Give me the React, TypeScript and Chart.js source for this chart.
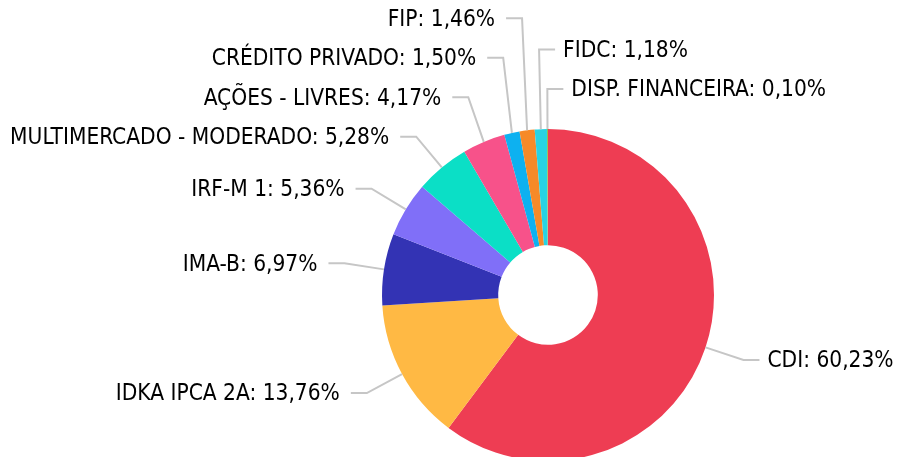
import React, { useEffect, useRef } from 'react';
import { Chart, registerables } from 'chart.js';

Chart.register(...registerables);

const categories = [
  'CDI',
  'IDKA IPCA 2A',
  'IMA-B',
  'IRF-M 1',
  'MULTIMERCADO - MODERADO',
  'AÇÕES - LIVRES',
  'CRÉDITO PRIVADO',
  'FIP',
  'FIDC',
  'DISP. FINANCEIRA',
];
const shares = [60.23, 13.76, 6.97, 5.36, 5.28, 4.17, 1.5, 1.46, 1.18, 0.1];
const sliceColors = [
  '#EE3D53',
  '#FFB944',
  '#3333B4',
  '#806FF8',
  '#0BDFC6',
  '#F7528A',
  '#0DB1F0',
  '#F68A28',
  '#27D3E3',
  '#8CC152',
];

const LABEL_FONT = '22.5px "DejaVu Sans Condensed", "DejaVu Sans", sans-serif';

const fmt = (v: number) => v.toFixed(2).replace('.', ',') + '%';

const outsideLabels = {
  id: 'outsideLabels',
  afterDatasetsDraw(chart: any) {
    const ctx = chart.ctx;
    const meta = chart.getDatasetMeta(0);
    const items = meta.data.map((arc: any, i: number) => {
      const p = arc.getProps(['x', 'y', 'startAngle', 'endAngle', 'outerRadius'], true);
      const mid = (p.startAngle + p.endAngle) / 2;
      const a = Math.atan2(Math.sin(mid), Math.cos(mid));
      const right = Math.cos(mid) > -0.05;
      const rl = p.outerRadius + 40;
      return {
        i,
        a,
        a2: a < 0 ? a + Math.PI * 2 : a,
        right,
        ex: p.x + Math.cos(mid) * p.outerRadius,
        ey: p.y + Math.sin(mid) * p.outerRadius,
        bx: p.x + Math.cos(mid) * rl,
        ny: p.y + Math.sin(mid) * rl,
        ly: 0,
      };
    });
    const gap = 39.5;
    const resolve = (list: any[]) => {
      for (let k = list.length - 1; k >= 0; k--) {
        list[k].ly = k === list.length - 1 ? list[k].ny : Math.min(list[k].ny, list[k + 1].ly - gap);
      }
    };
    const rightList = items.filter((o: any) => o.right).sort((u: any, v: any) => u.a - v.a);
    const leftList = items.filter((o: any) => !o.right).sort((u: any, v: any) => v.a2 - u.a2);
    resolve(rightList);
    resolve(leftList);

    ctx.save();
    ctx.font = LABEL_FONT;
    ctx.textBaseline = 'middle';
    for (const o of items) {
      const dir = o.right ? 1 : -1;
      ctx.strokeStyle = '#c6c6c6';
      ctx.lineWidth = 2;
      ctx.beginPath();
      ctx.moveTo(o.ex, o.ey);
      ctx.lineTo(o.bx, o.ly);
      ctx.lineTo(o.bx + dir * 16, o.ly);
      ctx.stroke();
      ctx.fillStyle = '#000000';
      ctx.textAlign = o.right ? 'left' : 'right';
      ctx.fillText(categories[o.i] + ': ' + fmt(shares[o.i]), o.bx + dir * (o.right ? 24 : 27), o.ly + 1.5);
    }
    ctx.restore();
  },
};

export default function App() {
  const ref = useRef<HTMLCanvasElement | null>(null);
  useEffect(() => {
    if (!ref.current) return;
    const chart = new Chart(ref.current, {
      type: 'doughnut',
      data: {
        labels: categories,
        datasets: [
          {
            data: shares,
            backgroundColor: sliceColors,
            borderWidth: 0,
            hoverOffset: 0,
            radius: 166,
          } as any,
        ],
      },
      options: {
        animation: false,
        responsive: true,
        maintainAspectRatio: false,
        cutout: '30%',
        layout: { padding: { left: 197, right: 0, top: 133, bottom: 0 } },
        plugins: {
          legend: { display: false },
          tooltip: { enabled: false },
        },
        events: [],
      },
      plugins: [outsideLabels],
    });
    return () => chart.destroy();
  }, []);
  return (
    <div style={{ position: 'absolute', left: 0, top: 0, width: 899, height: 457, background: '#fff' }}>
      <canvas ref={ref} />
    </div>
  );
}
